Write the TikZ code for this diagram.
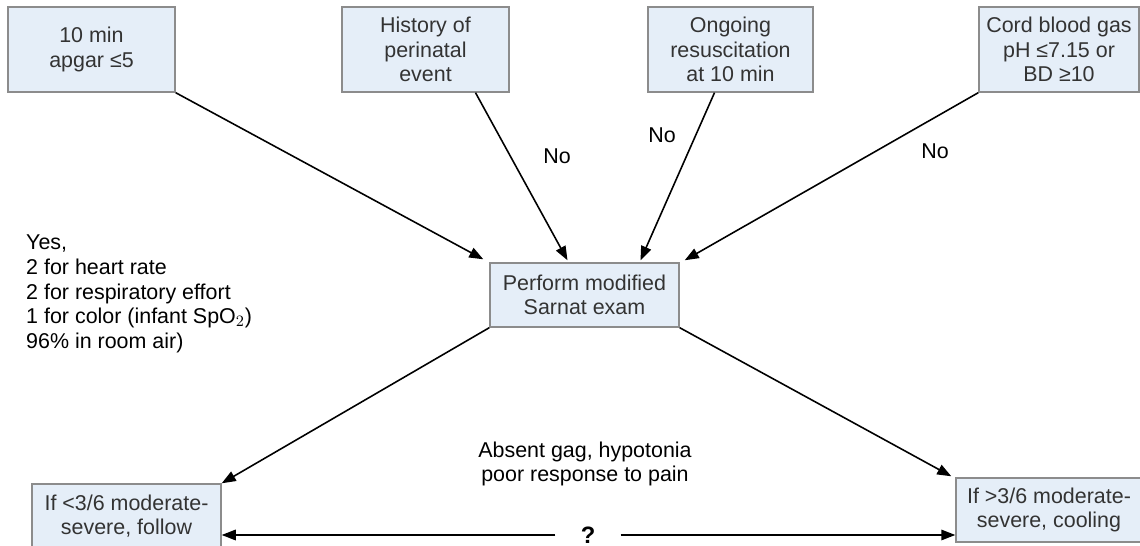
\documentclass[tikz,border=0pt]{standalone}
\usepackage{fontspec}
\setmainfont{Liberation Sans}
\usetikzlibrary{arrows.meta,positioning,calc}

\definecolor{boxfill}{HTML}{E5EEF8}
\definecolor{boxline}{HTML}{8C8C8C}
\definecolor{boxtext}{HTML}{333333}

\tikzset{
    critbox/.style={draw=boxline, fill=boxfill, text=boxtext, align=center, inner sep=0pt, line width=0.8pt},
    arr/.style={-{Triangle[length=8pt,width=6pt]}, line width=0.9pt},
    lbl/.style={font=\fontsize{12.2}{14}\selectfont}
}

\begin{document}
\begin{tikzpicture}[x=0.02cm, y=-0.02cm, font=\fontsize{12.2}{14}\selectfont]
        \useasboundingbox (0,0) rectangle (1140,546);
        % Define nodes
        \node (apgar) [critbox, minimum width=167*0.02cm, minimum height=85*0.02cm] at (91.5,49.5) {10 min\\apgar ≤5};
        \node (history) [critbox, minimum width=167*0.02cm, minimum height=85*0.02cm] at (425.5,49.5) {History of\\perinatal\\event};
        \node (ongoing) [critbox, minimum width=165*0.02cm, minimum height=85*0.02cm] at (730.5,49.5) {Ongoing\\resuscitation\\at 10 min};
        \node (cord) [critbox, minimum width=160*0.02cm, minimum height=85*0.02cm] at (1059,49.5) {Cord blood gas\\pH ≤7.15 or\\BD ≥10};
        \node (sarnat) [critbox, minimum width=189*0.02cm, minimum height=64*0.02cm] at (584.5,295) {Perform modified\\Sarnat exam};
        \node (follow) [critbox, minimum width=189*0.02cm, minimum height=64*0.02cm] at (126.5,516) {If <3/6 moderate-\\severe, follow};
        \node (cooling) [critbox, minimum width=186*0.02cm, minimum height=64*0.02cm] at (1049,510) {If >3/6 moderate-\\severe, cooling};

        \node (yes) [lbl, anchor=north west, align=left] at (20,229) {Yes,\\2 for heart rate\\2 for respiratory effort\\1 for color (infant SpO$_2$)\\96\% in room air)};
        \node (no1) [lbl] at (557,156) {No};
        \node (no2) [lbl] at (662,135) {No};
        \node (no3) [lbl] at (935,151) {No};
        \node (signs) [lbl, align=center] at (585,464) {Absent gag, hypotonia\\poor response to pain};
        \node (q) [font=\fontsize{13.5}{14}\selectfont\bfseries, inner xsep=0.5cm, inner ysep=1pt] at (588,535) {?};

        % Draw arrows
        \draw[arr] (apgar.south east) -- ($(sarnat.north west)+(-6,-3)$);
        \draw[arr] ($(history.south)+(50,0)$) -- ($(sarnat.north)+(-17,-2)$);
        \draw[arr] ($(ongoing.south)+(-16,0)$) -- ($(sarnat.north)+(56,-2)$);
        \draw[arr] (cord.south west) -- ($(sarnat.north east)+(5,-2)$);
        \draw[arr] (sarnat.south west) -- (follow.north east);
        \draw[arr] (sarnat.south east) -- ($(cooling.north west)+(-4,-1)$);
        \draw[arr] (q) -- (follow.east |- q);
        \draw[arr] (q) -- (cooling.west |- q);
    \end{tikzpicture}
\end{document}
